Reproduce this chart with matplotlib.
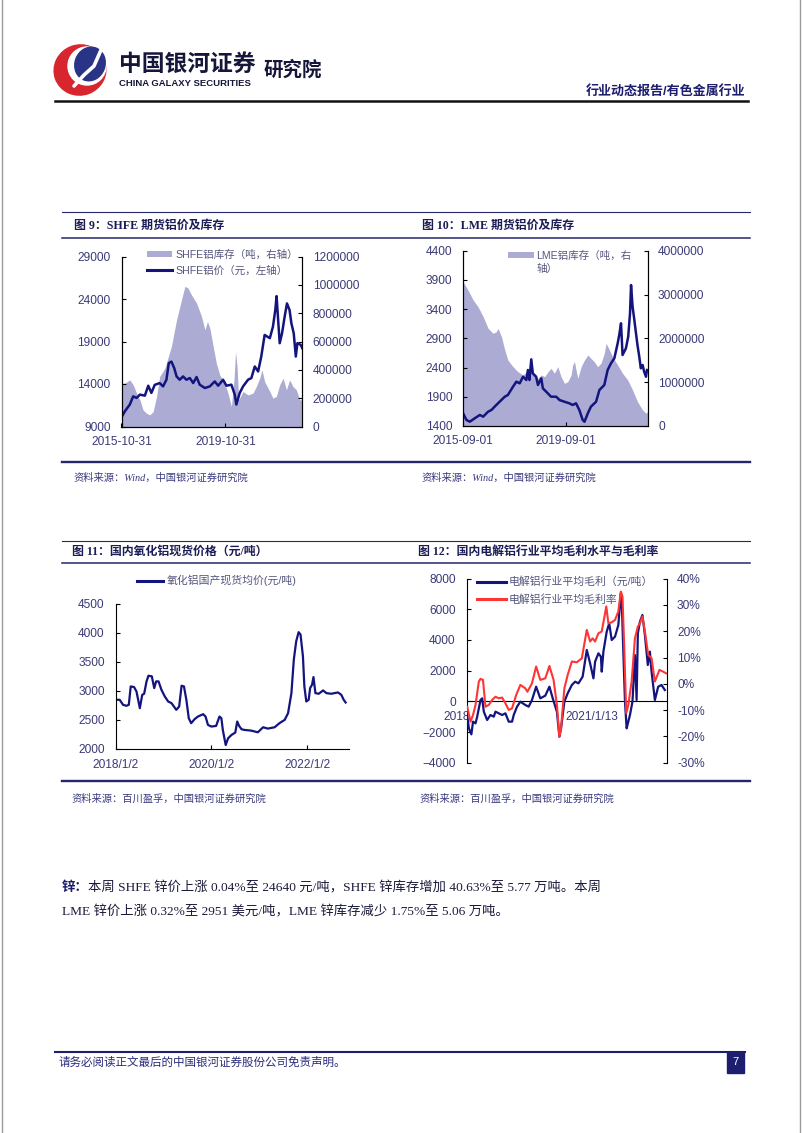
import datetime as dt
import matplotlib
matplotlib.use('Agg')
import matplotlib.pyplot as plt
from matplotlib.patches import Patch, Ellipse, Rectangle
from matplotlib.lines import Line2D
from matplotlib.ticker import FuncFormatter
from matplotlib.transforms import Bbox, TransformedBbox, offset_copy

plt.rcParams['font.family'] = ['Liberation Sans', 'Noto Sans CJK SC', 'DejaVu Sans']
plt.rcParams['axes.unicode_minus'] = True

# ---------------- data (x in decimal years) ----------------
# Fig 9: SHFE aluminium price (yuan/t, left) and SHFE inventory (t, right)
shfe_price_t = [2015.83, 2015.96, 2016.15, 2016.28, 2016.41, 2016.54, 2016.73, 2016.86, 2016.98, 2017.11,
                2017.30, 2017.43, 2017.56, 2017.65, 2017.75, 2017.86, 2017.95, 2018.07, 2018.20, 2018.33,
                2018.46, 2018.59, 2018.72, 2018.84, 2019.04, 2019.23, 2019.42, 2019.55, 2019.74, 2019.87,
                2020.06, 2020.19, 2020.25, 2020.38, 2020.51, 2020.70, 2020.83, 2020.96, 2021.09, 2021.21,
                2021.34, 2021.54, 2021.66, 2021.75, 2021.80, 2021.86, 2021.92, 2022.01, 2022.11, 2022.20,
                2022.30, 2022.37, 2022.46, 2022.54, 2022.60, 2022.73, 2022.79]
shfe_price = [10100, 10790, 11580, 12550, 12360, 12750, 12630, 13800, 12950, 13900,
              14110, 13720, 14500, 16450, 16640, 15870, 14890, 14500, 14890, 14500,
              14700, 14110, 14820, 13920, 13530, 13720, 14300, 13800, 14500, 13800,
              13920, 12750, 11580, 12940, 13720, 14500, 14700, 16060, 15480, 17230,
              19770, 19390, 20750, 22700, 24340, 21530, 18800, 19970, 21910, 23480,
              22700, 21140, 19970, 17230, 18800, 18600, 18210]
shfe_inv_t = [2015.83, 2015.96, 2016.15, 2016.28, 2016.41, 2016.54, 2016.66, 2016.79, 2016.92, 2017.05,
              2017.18, 2017.30, 2017.50, 2017.75, 2017.95, 2018.14, 2018.27, 2018.39, 2018.52, 2018.72,
              2018.91, 2019.04, 2019.14, 2019.23, 2019.36, 2019.48, 2019.61, 2019.80, 2019.93, 2020.06,
              2020.16, 2020.22, 2020.28, 2020.34, 2020.51, 2020.70, 2020.89, 2021.02, 2021.15, 2021.24,
              2021.34, 2021.54, 2021.66, 2021.79, 2021.92, 2022.05, 2022.18, 2022.30, 2022.43, 2022.56,
              2022.69, 2022.79]
shfe_inv = [306000, 306000, 329000, 294000, 235000, 188000, 117000, 94000, 82000, 106000,
            212000, 353000, 412000, 565000, 753000, 895000, 989000, 977000, 930000, 871000,
            777000, 683000, 741000, 695000, 565000, 447000, 365000, 306000, 235000, 141000,
            329000, 529000, 421000, 188000, 247000, 223000, 235000, 282000, 341000, 400000,
            317000, 247000, 200000, 212000, 294000, 341000, 259000, 329000, 282000, 259000,
            188000, 188000]
shfe_left_ticks = [9000, 14000, 19000, 24000, 29000]
shfe_right_ticks = [0, 200000, 400000, 600000, 800000, 1000000, 1200000]
shfe_xdates = ['2015-10-31', '2019-10-31']

# Fig 10: LME aluminium price (USD/t, left) and LME inventory (t, right)
lme_price_t = [2015.67, 2015.80, 2015.93, 2016.12, 2016.32, 2016.45, 2016.64, 2016.77, 2016.96, 2017.09,
               2017.29, 2017.41, 2017.61, 2017.74, 2017.87, 2018.00, 2018.13, 2018.19, 2018.25, 2018.32,
               2018.38, 2018.51, 2018.58, 2018.71, 2018.77, 2018.90, 2019.09, 2019.29, 2019.42, 2019.61,
               2019.80, 2019.93, 2020.06, 2020.19, 2020.32, 2020.39, 2020.52, 2020.64, 2020.84, 2020.97,
               2021.16, 2021.29, 2021.42, 2021.55, 2021.68, 2021.74, 2021.81, 2021.87, 2022.00, 2022.09,
               2022.16, 2022.20, 2022.26, 2022.32, 2022.45, 2022.52, 2022.58, 2022.65, 2022.71, 2022.78,
               2022.82]
lme_price = [1616, 1501, 1472, 1530, 1587, 1558, 1643, 1672, 1758, 1814,
             1900, 1929, 2071, 2157, 2129, 2242, 2186, 2357, 2186, 2540,
             2300, 2242, 2100, 2215, 2044, 1986, 1900, 1900, 1843, 1814,
             1787, 1758, 1787, 1672, 1501, 1472, 1616, 1729, 1814, 2015,
             2100, 2357, 2472, 2557, 2814, 2956, 3157, 2614, 2728, 2927,
             3328, 3812, 3441, 3242, 2785, 2585, 2386, 2443, 2328, 2242,
             2357]
lme_inv_t = [2015.67, 2015.86, 2016.06, 2016.25, 2016.45, 2016.64, 2016.83, 2016.96, 2017.03, 2017.16,
             2017.29, 2017.41, 2017.61, 2017.80, 2018.00, 2018.19, 2018.38, 2018.58, 2018.71, 2018.84,
             2018.97, 2019.09, 2019.22, 2019.35, 2019.48, 2019.61, 2019.74, 2019.87, 2019.93, 2020.00,
             2020.06, 2020.13, 2020.26, 2020.39, 2020.52, 2020.64, 2020.77, 2020.90, 2021.03, 2021.16,
             2021.23, 2021.36, 2021.48, 2021.68, 2021.87, 2022.07, 2022.26, 2022.45, 2022.65, 2022.78,
             2022.84]
lme_inv = [3292000, 3102000, 2874000, 2721000, 2493000, 2228000, 2114000, 2150000, 2228000, 2036000,
           1733000, 1504000, 1351000, 1237000, 1162000, 1276000, 1201000, 1087000, 1162000, 1123000,
           1237000, 1315000, 1201000, 1351000, 1123000, 972000, 1009000, 1162000, 1390000, 1466000,
           1276000, 1087000, 1351000, 1504000, 1619000, 1543000, 1466000, 1351000, 1429000, 1657000,
           1886000, 1733000, 1580000, 1390000, 1201000, 1048000, 820000, 553000, 363000, 288000,
           324000]
lme_left_ticks = [1400, 1900, 2400, 2900, 3400, 3900, 4400]
lme_right_ticks = [0, 1000000, 2000000, 3000000, 4000000]
lme_xdates = ['2015-09-01', '2019-09-01']

# Fig 11: domestic alumina spot price (yuan/t)
alumina_t = [2018.00, 2018.09, 2018.16, 2018.23, 2018.28, 2018.32, 2018.39, 2018.44, 2018.51, 2018.56,
             2018.60, 2018.65, 2018.69, 2018.76, 2018.81, 2018.85, 2018.90, 2018.96, 2019.03, 2019.10,
             2019.17, 2019.27, 2019.33, 2019.38, 2019.43, 2019.48, 2019.53, 2019.58, 2019.65, 2019.72,
             2019.83, 2019.88, 2019.93, 2020.00, 2020.10, 2020.17, 2020.21, 2020.24, 2020.30, 2020.35,
             2020.42, 2020.50, 2020.54, 2020.58, 2020.63, 2020.69, 2020.83, 2020.97, 2021.08, 2021.18,
             2021.32, 2021.42, 2021.53, 2021.60, 2021.67, 2021.72, 2021.77, 2021.82, 2021.86, 2021.91,
             2021.94, 2021.98, 2022.03, 2022.06, 2022.10, 2022.13, 2022.17, 2022.24, 2022.33, 2022.40,
             2022.50, 2022.64, 2022.71, 2022.76, 2022.80]
alumina = [2844, 2844, 2757, 2740, 2757, 3075, 3064, 2988, 2699, 2930,
           2948, 3162, 3260, 3249, 3046, 3162, 3162, 3017, 2902, 2815,
           2786, 2670, 2728, 3087, 3075, 2844, 2525, 2439, 2508, 2554,
           2595, 2554, 2410, 2381, 2392, 2554, 2525, 2323, 2062, 2178,
           2236, 2277, 2468, 2392, 2335, 2323, 2311, 2282, 2369, 2346,
           2369, 2439, 2497, 2612, 2959, 3538, 3856, 4013, 3972, 3596,
           3075, 2815, 2844, 3046, 3104, 3237, 2959, 2948, 3006, 2959,
           2948, 2971, 2930, 2844, 2797]
alumina_ticks = [2000, 2500, 3000, 3500, 4000, 4500]
alumina_xdates = ['2018-01-02', '2020-01-02', '2022-01-02']
alumina_xlabels = ['2018/1/2', '2020/1/2', '2022/1/2']

# Fig 12: electrolytic aluminium average gross profit (yuan/t, left) and margin (%, right)
profit_t = [2018.02, 2018.06, 2018.12, 2018.16, 2018.22, 2018.26, 2018.34, 2018.38, 2018.42, 2018.50,
            2018.58, 2018.66, 2018.70, 2018.78, 2018.86, 2018.94, 2019.02, 2019.10, 2019.14, 2019.22,
            2019.30, 2019.42, 2019.50, 2019.58, 2019.68, 2019.78, 2019.90, 2020.00, 2020.08, 2020.18,
            2020.24, 2020.28, 2020.36, 2020.44, 2020.54, 2020.62, 2020.70, 2020.80, 2020.90, 2020.98,
            2021.06, 2021.10, 2021.18, 2021.24, 2021.26, 2021.30, 2021.38, 2021.44, 2021.50, 2021.58,
            2021.66, 2021.72, 2021.74, 2021.78, 2021.82, 2021.86, 2021.90, 2021.94, 2022.00, 2022.06,
            2022.10, 2022.13, 2022.18, 2022.24, 2022.30, 2022.37, 2022.42, 2022.46, 2022.54, 2022.62,
            2022.70, 2022.78]
profit = [-886, -1755, -2146, -1320, -1429, -995, 91, 200, -669, -1212,
          -886, -995, -669, -777, -886, -777, -1320, -1320, -886, -343,
          -17, -235, -343, 91, 960, 200, 373, 960, 200, -669,
          -2298, -1755, -17, 526, 1068, 1286, 1177, 1611, 3349, 2480,
          1503, 2589, 3132, 2914, 1937, 3240, 4543, 5086, 4000, 4217,
          4977, 7041, 6715, 3240, -17, -1755, -1320, -886, -17, 3023,
          91, 4435, 5195, 5629, 4326, 2371, 3240, 1937, 91, 960,
          1068, 743]
margin_t = [2018.02, 2018.10, 2018.16, 2018.22, 2018.30, 2018.34, 2018.40, 2018.46, 2018.54, 2018.62,
            2018.70, 2018.78, 2018.86, 2018.94, 2019.02, 2019.10, 2019.20, 2019.30, 2019.42, 2019.47,
            2019.58, 2019.68, 2019.78, 2019.90, 2020.00, 2020.10, 2020.18, 2020.24, 2020.28, 2020.36,
            2020.44, 2020.54, 2020.66, 2020.78, 2020.90, 2020.98, 2021.04, 2021.10, 2021.18, 2021.26,
            2021.37, 2021.42, 2021.50, 2021.58, 2021.66, 2021.72, 2021.76, 2021.80, 2021.85, 2021.90,
            2021.98, 2022.06, 2022.13, 2022.18, 2022.24, 2022.30, 2022.38, 2022.46, 2022.54, 2022.65,
            2022.73, 2022.81]
margin = [-8.7, -14.4, -11.8, -8.0, 0.9, 1.9, 1.5, -8.7, -8.0, -6.1,
          -4.9, -5.5, -5.2, -7.4, -9.9, -9.3, -4.2, -0.4, -1.7, -3.0,
          0.2, 6.6, 1.5, 2.1, 6.8, 1.5, -8.0, -20.1, -16.9, -1.7,
          3.4, 8.5, 8.2, 9.7, 20.5, 16.1, 17.3, 16.1, 19.2, 19.9,
          29.4, 23.0, 23.4, 24.3, 27.5, 35.1, 33.2, 14.8, -11.2, -8.0,
          0.9, 17.3, 21.8, 23.0, 25.6, 19.9, 11.0, 9.7, 0.9, 5.3,
          4.7, 4.0]
profit_ticks = [-4000, -2000, 0, 2000, 4000, 6000, 8000]
margin_ticks = [-30, -20, -10, 0, 10, 20, 30, 40]
profit_xdates = ['2018-01-02', '2021-01-13']
profit_xlabels = ['2018/1/2', '2021/1/13']

# ---------------- style ----------------
NAVY = '#14147F'
AREA = '#ABABD4'
TICK = '#3A3A78'
LEG = '#55557E'
RED = '#FF3535'
TITLE = '#1B1B55'
RULE = '#26266A'
CJK = ['Liberation Sans', 'Noto Sans CJK SC', 'DejaVu Sans']
SERIF = ['Liberation Serif', 'Noto Sans CJK SC', 'DejaVu Sans']
TS = 8.6

W, H = 802, 1133
fig = plt.figure(figsize=(W / 100, H / 100), dpi=100)
bg = fig.add_axes([0, 0, 1, 1], zorder=-10)
bg.set_xlim(0, W)
bg.set_ylim(H, 0)
bg.axis('off')


def dec(s):
    d = dt.date.fromisoformat(s)
    a = dt.date(d.year, 1, 1)
    b = dt.date(d.year + 1, 1, 1)
    return d.year + (d - a).days / (b - a).days


def px_axes(x0, y0, x1, y1):
    return fig.add_axes([x0 / W, 1 - y1 / H, (x1 - x0) / W, (y1 - y0) / H])


def intfmt(v, p):
    return f'{v:.0f}'


def base_style(ax, xpad=6.5):
    ax.spines['top'].set_visible(False)
    for s in ax.spines.values():
        s.set_linewidth(0.8)
        s.set_color('black')
    ax.tick_params(axis='y', direction='in', length=3, width=0.8, pad=7.8,
                   labelsize=TS, labelcolor=TICK)
    ax.tick_params(axis='x', direction='in', length=3, width=0.8, pad=xpad,
                   labelsize=TS, labelcolor=TICK)


def right_style(ax):
    ax.spines['top'].set_visible(False)
    for s in ax.spines.values():
        s.set_linewidth(0.8)
    ax.tick_params(axis='y', direction='in', length=3, width=0.8, pad=7.6,
                   labelsize=TS, labelcolor=TICK)


# ---------------- Fig 9 ----------------
a9 = px_axes(121.5, 256.5, 302.3, 426.5)
a9r = a9.twinx()
a9r.fill_between(shfe_inv_t, shfe_inv, 0, color=AREA, lw=0)
a9.plot(shfe_price_t, shfe_price, color=NAVY, lw=1.8)
a9.set_zorder(a9r.get_zorder() + 1)
a9.patch.set_visible(False)
a9.set_xlim(dec('2015-10-31'), 2022.79)
a9.set_ylim(9000, 29000)
a9.set_yticks(shfe_left_ticks)
a9r.set_ylim(0, 1200000)
a9r.set_yticks(shfe_right_ticks)
a9r.yaxis.set_major_formatter(FuncFormatter(intfmt))
a9.set_xticks([dec(d) for d in shfe_xdates])
a9.set_xticklabels(shfe_xdates)
base_style(a9)
right_style(a9r)
a9.legend([Patch(facecolor=AREA, edgecolor='none'), Line2D([], [], color=NAVY, lw=2.2)],
          ['SHFE铝库存（吨，右轴）', 'SHFE铝价（元，左轴）'],
          loc='upper left', bbox_to_anchor=(147 / W, 1 - 250 / H), bbox_transform=fig.transFigure,
          frameon=False, fontsize=7.6, handlelength=2.35, handleheight=0.5, handletextpad=0.3,
          labelspacing=0.5, borderpad=0, borderaxespad=0, labelcolor=LEG)

# ---------------- Fig 10 ----------------
a10 = px_axes(463, 250.7, 647.5, 425.9)
a10r = a10.twinx()
a10r.fill_between(lme_inv_t, lme_inv, 0, color=AREA, lw=0)
a10.plot(lme_price_t, lme_price, color=NAVY, lw=1.8)
a10.set_zorder(a10r.get_zorder() + 1)
a10.patch.set_visible(False)
a10.set_xlim(dec('2015-09-01'), 2022.84)
a10.set_ylim(1400, 4400)
a10.set_yticks(lme_left_ticks)
a10r.set_ylim(0, 4000000)
a10r.set_yticks(lme_right_ticks)
a10r.yaxis.set_major_formatter(FuncFormatter(intfmt))
a10.set_xticks([dec(d) for d in lme_xdates])
a10.set_xticklabels(lme_xdates)
base_style(a10)
right_style(a10r)
a10.legend([Patch(facecolor=AREA, edgecolor='none')], ['LME铝库存（吨，右'],
           loc='upper left', bbox_to_anchor=(508 / W, 1 - 250.5 / H), bbox_transform=fig.transFigure,
           frameon=False, fontsize=7.6, handlelength=2.45, handleheight=0.5, handletextpad=0.2,
           borderpad=0, borderaxespad=0, labelcolor=LEG)
bg.text(537, 268.5, '轴）', fontsize=7.6, color=LEG, va='center', ha='left', family=CJK)

# ---------------- Fig 11 ----------------
a11 = px_axes(115.5, 604, 348.5, 748.6)
a11.plot(alumina_t, alumina, color=NAVY, lw=1.6)
a11.set_xlim(dec('2018-01-02'), 2022.86)
a11.set_ylim(2000, 4500)
a11.set_yticks(alumina_ticks)
a11.set_xticks([dec(d) for d in alumina_xdates])
a11.set_xticklabels(alumina_xlabels)
a11.spines['right'].set_visible(False)
base_style(a11, xpad=7.5)
a11.legend([Line2D([], [], color=NAVY, lw=2.2)], ['氧化铝国产现货均价(元/吨)'],
           loc='upper left', bbox_to_anchor=(137 / W, 1 - 575 / H), bbox_transform=fig.transFigure,
           frameon=False, fontsize=7.8, handlelength=2.4, handletextpad=0.3,
           borderpad=0, borderaxespad=0, labelcolor=LEG)

# ---------------- Fig 12 ----------------
a12 = px_axes(466.5, 578.6, 666.5, 762.8)
a12r = a12.twinx()
a12.plot(profit_t, profit, color=NAVY, lw=1.6, zorder=3)
a12r.plot(margin_t, margin, color=RED, lw=1.5)
a12.set_xlim(dec('2018-01-02'), 2022.82)
a12.set_ylim(-4000, 8000)
a12.set_yticks(profit_ticks)
a12r.set_ylim(-30, 40)
a12r.set_yticks(margin_ticks)
a12r.yaxis.set_major_formatter(FuncFormatter(lambda v, p: f'{v:.0f}%'))
base_style(a12)
right_style(a12r)
a12.spines['bottom'].set_position(('data', 0))
a12.spines['right'].set_visible(False)
a12r.spines['bottom'].set_visible(False)
a12r.spines['left'].set_visible(False)
a12.set_xticks([])
lbl_tr = offset_copy(a12.transData, fig=fig, x=0, y=-15.5, units='dots')
clip_left = TransformedBbox(Bbox([[0, 0], [466.5 / W, 1]]), fig.transFigure)
for i, (d, lab) in enumerate(zip(profit_xdates, profit_xlabels)):
    t = a12.text(dec(d), 0, lab, transform=lbl_tr, ha='center', va='center',
                 fontsize=TS, color=TICK, zorder=1)
    if i == 0:
        t.set_clip_box(clip_left)
        t.set_clip_on(True)
a12r.legend([Line2D([], [], color=NAVY, lw=2.2), Line2D([], [], color=RED, lw=2.2)],
            ['电解铝行业平均毛利（元/吨）', '电解铝行业平均毛利率'],
            loc='upper left', bbox_to_anchor=(477 / W, 1 - 576.5 / H), bbox_transform=fig.transFigure,
            frameon=False, fontsize=7.8, handlelength=2.65, handletextpad=0.25,
            labelspacing=0.62, borderpad=0, borderaxespad=0, labelcolor=LEG)

# ---------------- page decorations ----------------
bg.plot([1.5, 1.5], [0, H], color='#9a9a9a', lw=1)
bg.plot([799.5, 799.5], [0, H], color='#9a9a9a', lw=1)

# logo
bg.add_patch(Ellipse((80, 70), 52, 50, angle=-20, color='#D8262E'))
bg.add_patch(Ellipse((87, 66), 38, 38, color='white'))
bg.add_patch(Ellipse((90, 64), 30, 34, angle=20, color='#2A3486'))
bg.plot([74, 84, 94, 101], [86, 75, 66, 50], color='white', lw=2.6, solid_capstyle='round')
bg.text(119, 64, '中国银河证券', fontsize=16.4, fontweight='bold', color='#16163A',
        va='center', ha='left', family=CJK)
bg.text(119, 84, 'CHINA GALAXY SECURITIES', fontsize=6.8, fontweight='bold', color='#16163A',
        va='center', ha='left', family=CJK)
bg.text(264, 70, '研究院', fontsize=14, fontweight='bold', color='#16163A',
        va='center', ha='left', family=CJK)
bg.text(745, 91, '行业动态报告/有色金属行业', fontsize=9.4, fontweight='bold', color='#1E1E6E',
        va='center', ha='right', family=CJK)
bg.plot([55, 748], [101, 101], color='#111111', lw=1.8)

# chart frame rules
for y, lw in [(212, 0.8), (238, 1.1), (462, 1.7), (540.7, 0.8), (563.3, 1.1), (781, 1.7)]:
    bg.plot([62, 750], [y, y], color=RULE, lw=lw)

titles = [(73.5, 226, '图 9：SHFE 期货铝价及库存'),
          (421.5, 226, '图 10：LME 期货铝价及库存'),
          (71.5, 552, '图 11：国内氧化铝现货价格（元/吨）'),
          (418.5, 552, '图 12：国内电解铝行业平均毛利水平与毛利率')]
for x, y, s in titles:
    bg.text(x, y, s, fontsize=8.6, fontweight='bold', color=TITLE, va='center', ha='left',
            family=SERIF)

sources = [(73, 478, '资料来源：Wind，中国银河证券研究院'),
           (422, 478, '资料来源：Wind，中国银河证券研究院'),
           (71, 799, '资料来源：百川盈孚，中国银河证券研究院'),
           (419, 799, '资料来源：百川盈孚，中国银河证券研究院')]
for x, y, s in sources:
    bg.text(x, y, s, fontsize=7.4, style='italic', color='#3A3A80', va='center', ha='left',
            family=SERIF)

# body text
bg.text(62, 888, '锌：', fontsize=9.6, fontweight='bold', color='#1C1C6B', va='center',
        ha='left', family=SERIF)
bg.text(88, 888, '本周 SHFE 锌价上涨 0.04%至 24640 元/吨，SHFE 锌库存增加 40.63%至 5.77 万吨。本周',
        fontsize=9.6, color='#1A1A3A', va='center', ha='left', family=SERIF)
bg.text(62, 912, 'LME 锌价上涨 0.32%至 2951 美元/吨，LME 锌库存减少 1.75%至 5.06 万吨。',
        fontsize=9.6, color='#1A1A3A', va='center', ha='left', family=SERIF)

# footer
bg.plot([55, 745], [1051.5, 1051.5], color='#1E1E6E', lw=1.5)
bg.text(58, 1063, '请务必阅读正文最后的中国银河证券股份公司免责声明。', fontsize=8.3,
        color='#2A2A7A', va='center', ha='left', family=CJK)
bg.add_patch(Rectangle((727, 1051.5), 17, 21.5, color='#1E1E6E'))
bg.text(735.5, 1062, '7', fontsize=8, color='white', va='center', ha='center')

fig.savefig('out.png', dpi=100)
